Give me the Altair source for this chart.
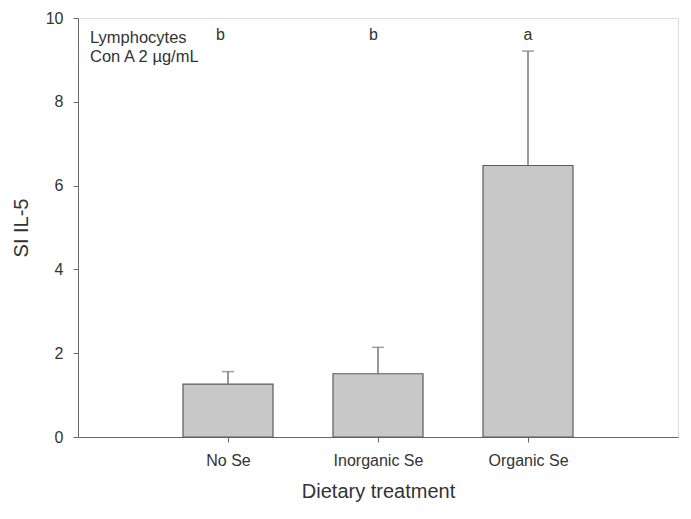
import altair as alt
import pandas as pd

categories = ["No Se", "Inorganic Se", "Organic Se"]
positions = [1, 2, 3]
means = [1.26, 1.51, 6.48]
upper = [1.56, 2.14, 9.21]
letters = ["b", "b", "a"]
letter_x = [0.95, 1.97, 3.0]
letter_y = [9.6, 9.6, 9.6]
note_lines = ["Lymphocytes", "Con A 2  µg/mL"]
note_y = [9.53, 9.07]
note_x = [0.08, 0.08]

df = pd.DataFrame({"cat": categories, "pos": positions, "mean": means, "upper": upper})
df_letters = pd.DataFrame({"x": letter_x, "y": letter_y, "t": letters})
df_note = pd.DataFrame({"x": note_x, "y": note_y, "t": note_lines})

FONT = "Liberation Sans"
AX = "#666666"
label_expr = "datum.value == 1 ? 'No Se' : datum.value == 2 ? 'Inorganic Se' : datum.value == 3 ? 'Organic Se' : ''"

xscale = alt.Scale(domain=[0, 4], nice=False, zero=False)
yscale = alt.Scale(domain=[0, 10], nice=False)

xaxis = alt.Axis(title="Dietary treatment", values=[1, 2, 3], labelExpr=label_expr,
                 grid=False, domainColor=AX, tickColor=AX, tickSize=5,
                 labelFont=FONT, labelFontSize=16, labelColor="#333333", labelPadding=10,
                 titleFont=FONT, titleFontSize=20, titleFontWeight="normal", titleColor="#333333",
                 titlePadding=13)
yaxis = alt.Axis(title="SI IL-5", values=[0, 2, 4, 6, 8, 10], grid=False,
                 domainColor=AX, tickColor=AX, tickSize=5,
                 labelFont=FONT, labelFontSize=16, labelColor="#333333", labelPadding=10,
                 titleFont=FONT, titleFontSize=20, titleFontWeight="normal", titleColor="#333333",
                 titlePadding=14)

base = alt.Chart(df)

bars = base.transform_calculate(
    x0="datum.pos - 0.3", x1="datum.pos + 0.3"
).mark_bar(fill="#c8c8c8", stroke="#5a5a5a", strokeWidth=1.2).encode(
    x=alt.X("x0:Q", scale=xscale, axis=xaxis),
    x2="x1:Q",
    y=alt.Y("mean:Q", scale=yscale, axis=yaxis),
    y2=alt.datum(0),
)

err = base.mark_rule(color="#777777", strokeWidth=1.5).encode(
    x=alt.X("pos:Q", scale=xscale),
    y=alt.Y("mean:Q", scale=yscale),
    y2="upper:Q",
)

caps = base.mark_tick(orient="horizontal", color="#777777", size=12, thickness=1.5).encode(
    x=alt.X("pos:Q", scale=xscale),
    y=alt.Y("upper:Q", scale=yscale),
)

letter_text = alt.Chart(df_letters).mark_text(font=FONT, fontSize=16, color="#333333").encode(
    x=alt.X("x:Q", scale=xscale),
    y=alt.Y("y:Q", scale=yscale),
    text="t:N",
)

note_text = alt.Chart(df_note).mark_text(font=FONT, fontSize=16.5, color="#333333", align="left").encode(
    x=alt.X("x:Q", scale=xscale),
    y=alt.Y("y:Q", scale=yscale),
    text="t:N",
)

chart = alt.layer(bars, err, caps, letter_text, note_text).properties(
    width=600, height=419,
    autosize=alt.AutoSizeParams(type="none"),
    padding={"left": 70, "top": 10, "right": 5, "bottom": 70},
).configure_view(stroke=AX, strokeWidth=1.2).configure(background="white")

chart.save("out.html", embed_options={"renderer": "svg", "actions": False})
